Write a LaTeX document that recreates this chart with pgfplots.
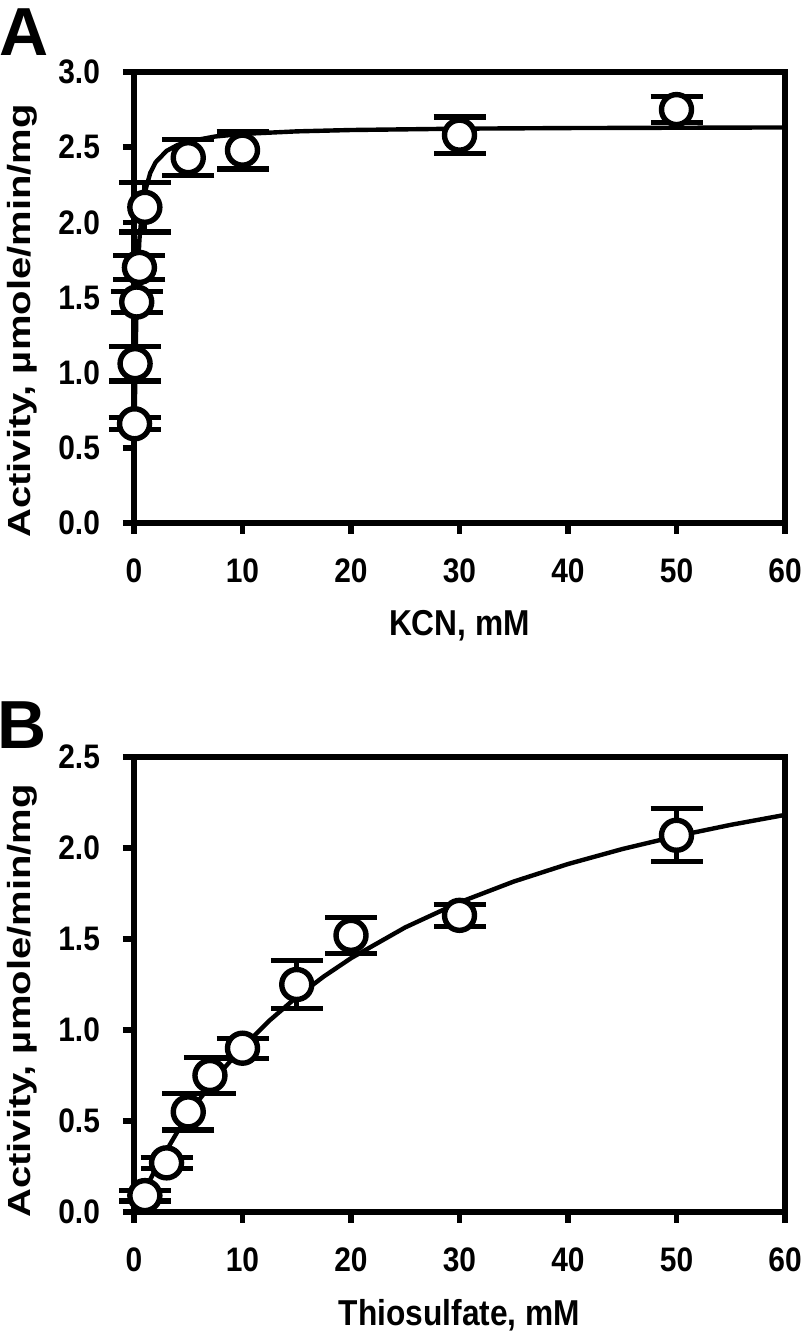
\documentclass[border=0pt]{standalone}
\usepackage{fontspec}
\setmainfont{Liberation Sans}
\newfontfamily\tickfont{Liberation Sans}[FakeStretch=0.88]
\usepackage{graphicx}
\usepackage{pgfplots}
\pgfplotsset{compat=1.18}
\usepackage{pgfplotstable}

\pgfplotstableread{
x y e
0.05 0.66 0.04
0.1 1.06 0.115
0.25 1.47 0.07
0.5 1.70 0.08
1 2.10 0.165
5 2.43 0.12
10 2.48 0.125
30 2.58 0.12
50 2.75 0.085
}\dataA

\pgfplotstableread{
x y e
1 0.09 0.03
3 0.27 0.03
5 0.55 0.10
7 0.75 0.10
10 0.90 0.055
15 1.25 0.13
20 1.52 0.10
30 1.63 0.06
50 2.07 0.145
}\dataB

\pgfplotsset{
  panel/.style={
    scale only axis, width=325.5pt,
    xmin=0, xmax=60, ymin=0,
    xtick={0,10,...,60},
    axis line style={line width=2.8pt},
    every tick/.style={line width=2.8pt, black},
    major tick length=5.5pt,
    tick align=outside,
    xtick pos=bottom, ytick pos=left,
    axis on top, clip=false,
    tick label style={font=\tickfont\bfseries\fontsize{17}{17}\selectfont},
    /pgf/number format/assume math mode=true,
    yticklabel style={/pgf/number format/.cd, fixed, fixed zerofill, precision=1},
    xticklabel shift=9pt,
    yticklabel shift=8pt,
    xlabel style={font=\tickfont\bfseries\fontsize{18}{18}\selectfont, at={(axis description cs:0.5,0)}, anchor=north, yshift=-40pt},
  },
  errs/.style={black, only marks, mark=none, forget plot,
    error bars/.cd, y dir=both, y explicit,
    error bar style={line width=2.6pt, black},
    error mark options={rotate=90, line width=2.6pt, black, mark size=13pt}},
  pts/.style={only marks, mark=*, mark size=7.5pt,
    mark options={fill=white, draw=black, line width=2.7pt}},
  fit/.style={black, line width=2.2pt, no marks},
}

\begin{document}
\begin{tikzpicture}[x=1pt,y=1pt]
\useasboundingbox (0,0) rectangle (400,666);

\begin{axis}[panel, at={(67pt,404.5pt)}, anchor=south west,
  height=225.5pt, ymax=3.0, ytick={0,0.5,...,3.0},
  xlabel={KCN, mM}]
\addplot[errs] table[x=x, y=y, y error=e] {\dataA};
\addplot[pts] table[x=x, y=y] {\dataA};
\addplot[fit] coordinates {
(0,0) (0.02,0.240) (0.05,0.528) (0.1,0.880) (0.2,1.320) (0.3,1.584)
(0.5,1.886) (0.75,2.084) (1,2.200) (1.5,2.329) (2,2.400) (3,2.475)
(4,2.514) (5,2.538) (7.5,2.571) (10,2.588) (15,2.605) (20,2.614)
(30,2.623) (40,2.627) (50,2.629) (60,2.631)};
\end{axis}

\begin{axis}[panel, at={(67pt,60pt)}, anchor=south west,
  height=227.5pt, ymax=2.5, ytick={0,0.5,...,2.5},
  xlabel={Thiosulfate, mM}]
\addplot[errs] table[x=x, y=y, y error=e] {\dataB};
\addplot[pts] table[x=x, y=y] {\dataB};
\addplot[fit] coordinates {
(0,0) (2,0.2375) (4,0.4406) (6,0.6162) (8,0.7696) (10,0.9048)
(12.5,1.0526) (15,1.1813) (17.5,1.2944) (20,1.3945) (25,1.5638)
(30,1.7015) (35,1.8157) (40,1.9119) (45,1.9942) (50,2.0652)
(55,2.1272) (60,2.1818)};
\end{axis}

\node[font=\bfseries\fontsize{34}{34}\selectfont] at (12,650) {A};
\node[font=\bfseries\fontsize{34}{34}\selectfont] at (11,303.5) {B};
\node[rotate=90, font=\bfseries\fontsize{20}{20}\selectfont, inner sep=0pt] at (11,505.5) {\scalebox{1}[0.8]{Activity, µmole/min/mg}};
\node[rotate=90, font=\bfseries\fontsize{20}{20}\selectfont, inner sep=0pt] at (11,165.5) {\scalebox{1}[0.8]{Activity, µmole/min/mg}};
\end{tikzpicture}
\end{document}
